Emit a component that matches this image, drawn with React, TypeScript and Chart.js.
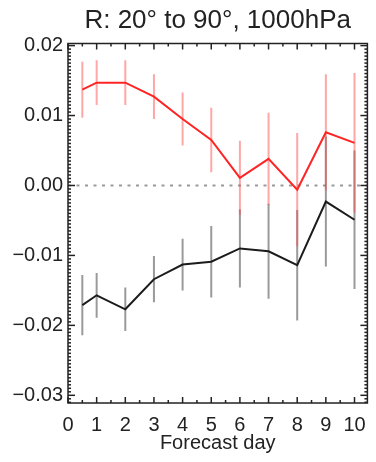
import React, { useEffect, useRef } from "react";
import { Chart, registerables } from "chart.js";

Chart.register(...registerables);

// Forecast days and mean differences with their error half-widths
const days = [0.5, 1, 2, 3, 4, 5, 6, 7, 8, 9, 10];
const redMean = [0.0137, 0.0147, 0.0147, 0.0127, 0.0095, 0.0065, 0.0011, 0.0038, -0.0006, 0.0076, 0.0061];
const redErr = [0.004, 0.0032, 0.0032, 0.0032, 0.0038, 0.0046, 0.0053, 0.0066, 0.0081, 0.0083, 0.01];
const blackMean = [-0.0171, -0.0157, -0.0177, -0.0134, -0.0113, -0.0109, -0.009, -0.0094, -0.0114, -0.0023, -0.0049];
const blackErr = [0.0043, 0.0032, 0.0031, 0.0033, 0.0037, 0.0051, 0.0056, 0.0068, 0.0079, 0.0093, 0.0099];

const xTicks = [0, 1, 2, 3, 4, 5, 6, 7, 8, 9, 10];
const yTicks = [-0.03, -0.02, -0.01, 0, 0.01, 0.02];

const TITLE = "R: 20\u00b0 to 90\u00b0, 1000hPa";
const X_TITLE = "Forecast day";
const FONT = "'Liberation Sans', Arial, Helvetica, sans-serif";
const TEXT = "#222";

const RED = "#ff2424";
const RED_BAR = "rgba(255, 80, 80, 0.5)";
const BLACK = "#1c1c1c";
const GRAY_BAR = "rgba(100, 100, 100, 0.65)";

const series = [
  { mean: blackMean, err: blackErr, bar: GRAY_BAR },
  { mean: redMean, err: redErr, bar: RED_BAR },
];

// zero reference line and vertical error bars, drawn under the lines
const errorBars = {
  id: "errorBars",
  beforeDatasetsDraw(chart: any) {
    const { ctx, chartArea, scales } = chart;
    const x = scales.x;
    const y = scales.y;
    ctx.save();
    ctx.beginPath();
    ctx.rect(chartArea.left, chartArea.top, chartArea.right - chartArea.left, chartArea.bottom - chartArea.top);
    ctx.clip();

    const y0 = y.getPixelForValue(0);
    ctx.strokeStyle = "#9a9a9a";
    ctx.lineWidth = 2;
    ctx.setLineDash([3, 5.5]);
    ctx.beginPath();
    ctx.moveTo(chartArea.left, y0);
    ctx.lineTo(chartArea.right, y0);
    ctx.stroke();
    ctx.setLineDash([]);

    ctx.lineWidth = 2;
    for (const s of series) {
      ctx.strokeStyle = s.bar;
      days.forEach((d, i) => {
        const px = x.getPixelForValue(d);
        ctx.beginPath();
        ctx.moveTo(px, y.getPixelForValue(s.mean[i] + s.err[i]));
        ctx.lineTo(px, y.getPixelForValue(s.mean[i] - s.err[i]));
        ctx.stroke();
      });
    }
    ctx.restore();
  },
};

// box frame with inward-pointing tick marks on all four sides
const frame = {
  id: "frame",
  afterDraw(chart: any) {
    const { ctx, chartArea, scales } = chart;
    const { left, right, top, bottom } = chartArea;
    const x = scales.x;
    const y = scales.y;
    ctx.save();
    ctx.strokeStyle = TEXT;
    ctx.lineWidth = 1.5;
    ctx.strokeRect(left, top, right - left, bottom - top);
    const seg = (x1: number, y1: number, x2: number, y2: number) => {
      ctx.beginPath();
      ctx.moveTo(x1, y1);
      ctx.lineTo(x2, y2);
      ctx.stroke();
    };
    for (let i = 0; i * 0.5 <= x.max + 1e-9; i++) {
      const px = x.getPixelForValue(i * 0.5);
      const len = i % 2 === 0 ? 6 : 3;
      seg(px, bottom, px, bottom - len);
      seg(px, top, px, top + len);
    }
    const step = 0.0005;
    for (let i = Math.ceil(y.min / step); i * step <= y.max + 1e-12; i++) {
      const py = y.getPixelForValue(i * step);
      const len = i % 20 === 0 ? 7 : 3;
      seg(left, py, left + len, py);
      seg(right, py, right - len, py);
    }
    ctx.restore();
  },
};

export default function App() {
  const ref = useRef<HTMLCanvasElement | null>(null);

  useEffect(() => {
    if (!ref.current) return;
    const chart = new Chart(ref.current, {
      type: "line",
      data: {
        datasets: [
          {
            data: days.map((d, i) => ({ x: d, y: blackMean[i] })),
            borderColor: BLACK,
            borderWidth: 2,
            pointRadius: 0,
            tension: 0,
          },
          {
            data: days.map((d, i) => ({ x: d, y: redMean[i] })),
            borderColor: RED,
            borderWidth: 2,
            pointRadius: 0,
            tension: 0,
          },
        ],
      },
      options: {
        animation: false,
        responsive: false,
        devicePixelRatio: 1,
        layout: { padding: { left: 0, right: 8, top: 0, bottom: 0 } },
        plugins: {
          legend: { display: false },
          tooltip: { enabled: false },
          title: {
            display: true,
            text: TITLE,
            fullSize: false,
            color: TEXT,
            font: { family: FONT, size: 26, weight: "normal", lineHeight: 1.2 },
            padding: { top: 5, bottom: 7.3 },
          },
        },
        scales: {
          x: {
            type: "linear",
            min: 0,
            max: 10.45,
            grid: { display: false, drawTicks: false },
            border: { display: false },
            afterBuildTicks: (s: any) => {
              s.ticks = xTicks.map((v) => ({ value: v }));
            },
            afterFit: (s: any) => {
              s.height = 59;
            },
            ticks: {
              color: TEXT,
              padding: 10,
              maxRotation: 0,
              autoSkip: false,
              font: { family: FONT, size: 20 },
              callback: (v: any) => String(v),
            },
            title: {
              display: true,
              text: X_TITLE,
              color: TEXT,
              font: { family: FONT, size: 20 },
              padding: { top: 0, bottom: 7 },
            },
          },
          y: {
            type: "linear",
            min: -0.0311,
            max: 0.0203,
            grid: { display: false, drawTicks: false },
            border: { display: false },
            afterBuildTicks: (s: any) => {
              s.ticks = yTicks.map((v) => ({ value: v }));
            },
            afterFit: (s: any) => {
              s.width = 68;
            },
            ticks: {
              color: TEXT,
              padding: 5,
              autoSkip: false,
              font: { family: FONT, size: 20 },
              callback: (v: any) => {
                const n = Number(v);
                const t = Math.abs(n).toFixed(2);
                return n < -1e-9 ? "\u2212" + t : t;
              },
            },
          },
        },
      },
      plugins: [errorBars, frame],
    } as any);
    return () => chart.destroy();
  }, []);

  return (
    <div style={{ position: "absolute", left: 0, top: 0, width: 376, height: 462, background: "#fff" }}>
      <canvas ref={ref} width={376} height={462} style={{ display: "block" }} />
    </div>
  );
}
